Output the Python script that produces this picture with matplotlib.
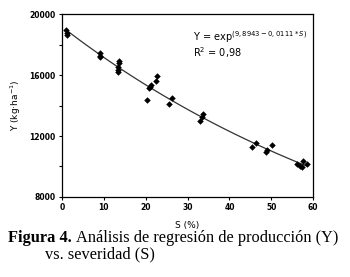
import numpy as np
import matplotlib
matplotlib.use("Agg")
import matplotlib.pyplot as plt

# Data
severity = [1.0, 1.1, 1.1, 9.2, 9.2, 9.1, 13.7, 13.7, 13.4, 13.5, 13.4,
            20.4, 21.0, 21.2, 20.8, 22.4, 22.8, 25.5, 26.2,
            32.9, 33.4, 33.7, 45.3, 46.3, 48.7, 49.0, 50.2,
            56.2, 56.8, 57.2, 57.6, 58.6]
yield_kg = [18950, 18780, 18620, 17420, 17270, 17160, 16940, 16770, 16550, 16330, 16220,
            14360, 15230, 15345, 15130, 15630, 15950, 14100, 14470,
            13000, 13250, 13420, 11260, 11520, 10970, 11080, 11390,
            10160, 10030, 9950, 10380, 10160]
x_ticks = [0, 10, 20, 30, 40, 50, 60]
y_ticks = [8000, 12000, 16000, 20000]
y_tick_labels = ["8000", "12000", "16000", "20000"]

fig = plt.figure(figsize=(3.5, 2.77), dpi=100)
ax = fig.add_axes([0.177, 0.289, 0.718, 0.660])

ax.scatter(severity, yield_kg, marker='D', s=11, color='black', zorder=3, linewidths=0)

# exponential regression fitted from the data
b, a = np.polyfit(severity, np.log(yield_kg), 1)
xs = np.linspace(min(severity), max(severity), 100)
ax.plot(xs, np.exp(a + b * xs), color='#333333', lw=0.9)

ax.set_xlim(0, 60)
ax.set_ylim(8000, 20000)
ax.set_xticks(x_ticks)
ax.set_yticks(y_ticks)
ax.set_yticklabels(y_tick_labels)
ax.set_yticks([10000, 14000, 18000], minor=True)
ax.tick_params(axis='both', which='both', direction='out', length=2.5, width=0.8,
               labelsize=5.5, pad=2)
for lab in ax.get_xticklabels() + ax.get_yticklabels():
    lab.set_fontweight('bold')
for s in ax.spines.values():
    s.set_linewidth(0.9)

ax.set_ylabel("Y (kg·ha$^{-1}$)", fontsize=6.5)
ax.yaxis.set_label_coords(-0.155, 0.5)
ax.set_xlabel("S (%)", fontsize=6.5, labelpad=6)

ax.text(0.52, 0.875, "Y = exp$^{(9,8943-0,0111*S)}$", transform=ax.transAxes,
        fontsize=7, ha='left', va='center')
ax.text(0.52, 0.79, "R$^2$ = 0,98", transform=ax.transAxes,
        fontsize=7, ha='left', va='center')

cap_y1 = 0.128
cap_y2 = 0.066
t1 = fig.text(0.022, cap_y1, "Figura 4.", fontsize=11.8, fontweight='bold',
              family='Liberation Serif', ha='left', va='baseline')
fig.canvas.draw()
x_next = t1.get_window_extent().x1 / (fig.dpi * fig.get_figwidth()) + 0.012
fig.text(x_next, cap_y1, "Análisis de regresión de producción (Y)", fontsize=11.8,
         family='Liberation Serif', ha='left', va='baseline')
fig.text(0.128, cap_y2, "vs. severidad (S)", fontsize=11.8,
         family='Liberation Serif', ha='left', va='baseline')

fig.savefig("out.png", dpi=100)
